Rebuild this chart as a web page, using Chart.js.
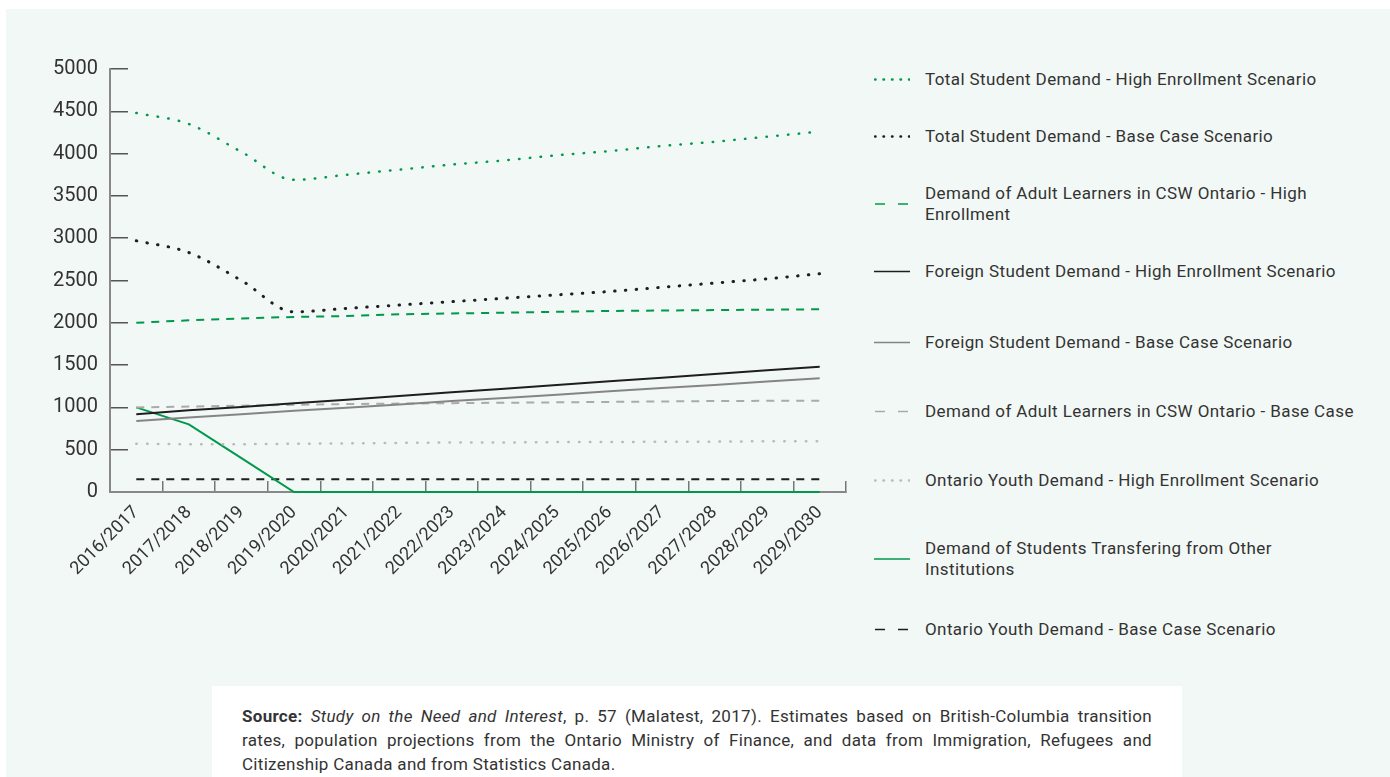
<!DOCTYPE html>
<html>
<head>
<meta charset="utf-8">
<script src="https://cdn.jsdelivr.net/npm/chart.js@4/dist/chart.umd.min.js"></script>
<style>
  body { margin: 0; width: 1390px; height: 777px; background: #fff; position: relative; overflow: hidden; font-family: Roboto, sans-serif; color: #333; }
  #panel { position: absolute; left: 6px; top: 9px; right: 0; bottom: 0; background: #f2f8f5; }
  #chartBox { position: absolute; left: 0; top: 0; width: 870px; height: 600px; }
  .legendItem { position: absolute; left: 874px; display: flex; align-items: center; transform: translateY(-50%); }
  .legendItem svg { width: 36px; height: 8px; margin-right: 15px; flex: none; }
  .legendItem span { font-size: 17px; letter-spacing: 0.4px; line-height: 21px; white-space: pre-line; color: #333; }
  #source { position: absolute; left: 212px; top: 686px; width: 910px; height: 73px; padding: 18px 30px 0 30px; background: #fff; font-size: 17px; letter-spacing: 0.3px; line-height: 24px; color: #333; }
  #source div { text-align: justify; text-align-last: justify; white-space: nowrap; }
  #source div.last { text-align-last: left; }
</style>
</head>
<body>
<div id="panel"></div>
<div id="chartBox"><canvas id="demandChart"></canvas></div>
<div id="legend"></div>
<div id="source">
  <div><b>Source:</b> <i>Study on the Need and Interest</i>, p. 57 (Malatest, 2017). Estimates based on British-Columbia transition</div>
  <div>rates, population projections from the Ontario Ministry of Finance, and data from Immigration, Refugees and</div>
  <div class="last">Citizenship Canada and from Statistics Canada.</div>
</div>
<script>
const years = ["2016/2017", "2017/2018", "2018/2019", "2019/2020", "2020/2021", "2021/2022", "2022/2023",
  "2023/2024", "2024/2025", "2025/2026", "2026/2027", "2027/2028", "2028/2029", "2029/2030"];

const totalHigh = [4480, 4350, 4020, 3690, 3750, 3810, 3870, 3920, 3980, 4030, 4090, 4140, 4200, 4260];
const totalBase = [2970, 2830, 2500, 2130, 2170, 2210, 2250, 2290, 2330, 2370, 2420, 2470, 2520, 2580];
const adultHigh = [2000, 2030, 2050, 2070, 2080, 2100, 2110, 2120, 2130, 2140, 2145, 2150, 2155, 2160];
const foreignHigh = [920, 965, 1005, 1050, 1090, 1135, 1180, 1220, 1265, 1310, 1350, 1395, 1440, 1480];
const foreignBase = [840, 880, 920, 960, 995, 1035, 1075, 1110, 1150, 1190, 1230, 1265, 1305, 1345];
const adultBase = [1000, 1010, 1020, 1030, 1040, 1045, 1050, 1055, 1060, 1065, 1070, 1075, 1078, 1080];
const youthHigh = [570, 565, 565, 570, 575, 580, 585, 585, 590, 590, 595, 595, 600, 600];
const transfer = [1000, 800, 400, 0, 0, 0, 0, 0, 0, 0, 0, 0, 0, 0];
const youthBase = [150, 150, 150, 150, 150, 150, 150, 150, 150, 150, 150, 150, 150, 150];

const yTicks = [0, 500, 1000, 1500, 2000, 2500, 3000, 3500, 4000, 4500, 5000];

const green = "#00994c";
const black = "#1e1e1e";
const DOT = [0.5, 10.3];
const DASH = [8, 7];

// label, values, colour, width, dash, legend dash, smooth
const series = [
  ["Total Student Demand - High Enrollment Scenario", totalHigh, green, 2.5, DOT, "0.5 8", true],
  ["Total Student Demand - Base Case Scenario", totalBase, black, 3, DOT, "0.5 8", true],
  ["Demand of Adult Learners in CSW Ontario - High\nEnrollment", adultHigh, green, 2, DASH, "10 13", false],
  ["Foreign Student Demand - High Enrollment Scenario", foreignHigh, black, 2, [], "", false],
  ["Foreign Student Demand - Base Case Scenario", foreignBase, "#858585", 2, [], "", false],
  ["Demand of Adult Learners in CSW Ontario - Base Case", adultBase, "#aaaaaa", 2, DASH, "10 13", false],
  ["Ontario Youth Demand - High Enrollment Scenario", youthHigh, "#bbbbbb", 2.5, DOT, "0.5 8", false],
  ["Demand of Students Transfering from Other\nInstitutions", transfer, green, 2, [], "", false],
  ["Ontario Youth Demand - Base Case Scenario", youthBase, black, 2, DASH, "10 13", false]
];

const legendCentres = [79, 136, 204, 271, 342, 411, 480, 559, 629];

const legend = document.getElementById("legend");
series.forEach((s, i) => {
  const item = document.createElement("div");
  item.className = "legendItem";
  item.style.top = legendCentres[i] + "px";
  const w = s[3] > 2 ? 2.5 : 1.6;
  item.innerHTML = `<svg viewBox="0 0 36 8"><line x1="${s[5] ? 1 : 0}" y1="4" x2="36" y2="4" stroke="${s[2]}" stroke-width="${w}" stroke-linecap="${s[5].startsWith('0.5') ? 'round' : 'butt'}" stroke-dasharray="${s[5]}"/></svg><span></span>`;
  item.querySelector("span").textContent = s[0];
  legend.appendChild(item);
});

Chart.defaults.font.family = "Roboto, sans-serif";
Chart.defaults.color = "#333";

new Chart(document.getElementById("demandChart"), {
  type: "line",
  data: {
    labels: years,
    datasets: series.map(s => ({
      label: s[0],
      data: s[1],
      borderColor: s[2],
      borderWidth: s[3],
      borderDash: s[4],
      borderCapStyle: s[4] === DOT ? "round" : "butt",
      cubicInterpolationMode: s[6] ? "monotone" : "default",
      tension: 0,
      pointRadius: 0,
      fill: false,
      clip: false
    }))
  },
  options: {
    responsive: true,
    maintainAspectRatio: false,
    animation: false,
    layout: { padding: { top: 69, right: 24, left: 0, bottom: 0 } },
    plugins: { legend: { display: false }, tooltip: { enabled: false } },
    scales: {
      x: {
        offset: true,
        grid: { offset: true, drawOnChartArea: false, drawTicks: true, tickLength: -11, color: "#777", lineWidth: 1.5 },
        border: { color: "#888", width: 2 },
        ticks: { maxRotation: 45, minRotation: 45, padding: 21, font: { size: 18 }, color: "#333" },
        afterFit: (scale) => { scale.height = 108; }
      },
      y: {
        min: 0,
        max: 5000,
        afterBuildTicks: (scale) => { scale.ticks = yTicks.map(v => ({ value: v })); },
        grid: { drawOnChartArea: false, drawTicks: true, tickLength: -18, color: "#555", lineWidth: 1.5 },
        border: { color: "#888", width: 2 },
        ticks: { padding: 30, font: { size: 20 }, color: "#333", callback: (v) => String(v) },
        afterFit: (scale) => { scale.width = 110; }
      }
    }
  }
});
</script>
</body>
</html>
